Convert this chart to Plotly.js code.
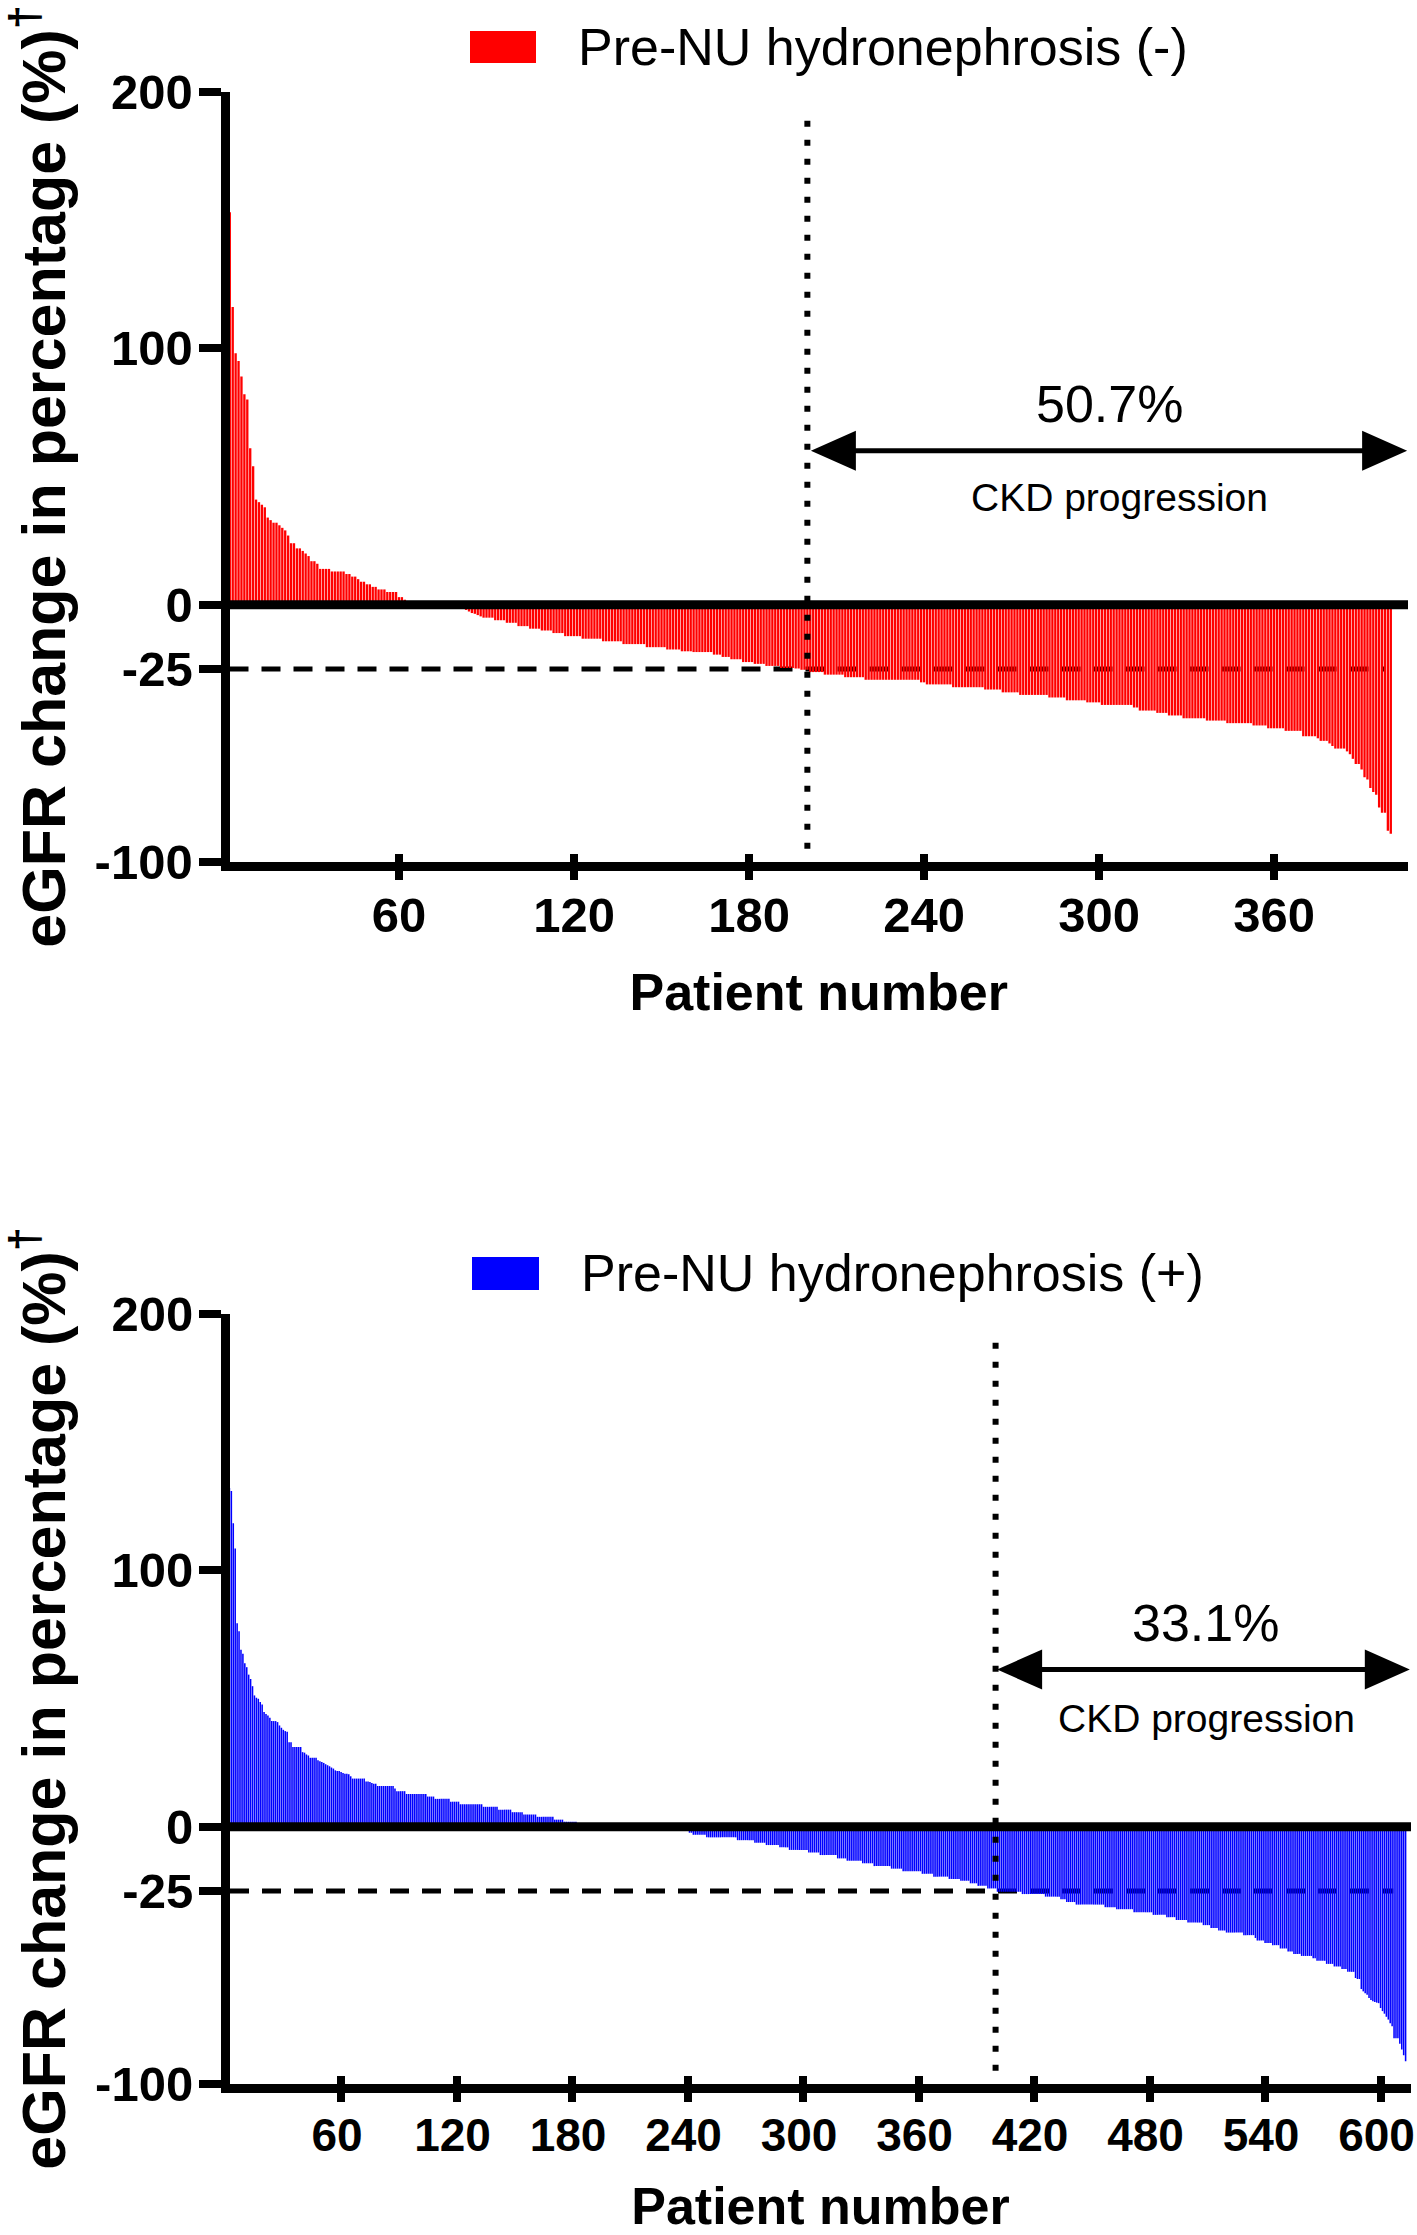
<!DOCTYPE html>
<html>
<head>
<meta charset="utf-8">
<script src="https://cdn.plot.ly/plotly-3.0.1.min.js"></script>
<style>html,body{margin:0;padding:0;background:#fff;}#chart{width:1417px;height:2235px;}</style>
</head>
<body>
<div id="chart"></div>
<script>
// ---------- DATA ----------
// Panel A: Pre-NU hydronephrosis (-), eGFR change (%) per patient, sorted
const egfrNeg = [
160,153,116,98,95,89,82,80,61,54,41,40,39,38,34,33,32,32,31,30,29,27,24,24,22,22,21,20,19,17,17,16,14,14,14,14,13,13,13,13,13,12,12,11,11,10,9,9,8,8,7,7,6,6,6,5,5,5,5,3,3,2,1.5,
0.8,0.6,0.5,0.4,0.3,0.3,0.2,0.2,0.1,0.1,0,0,-0.1,-0.2,-0.3,-0.5,-0.7,-1,-1.3,
-2,-2.6,-3.2,-3.5,-4,-4.5,
-5,-5,-5,-5,
-6,-6,-6,-6,
-7,-7,-7,-7,
-8.3,-8.3,-8.3,-8.3,
-9.3,-9.3,-9.3,-9.3,
-10,-10,-10,-10,
-11,-11,-11,-11,
-12.2,-12.2,-12.2,-12.2,-12.2,-12.2,
-13.2,-13.2,-13.2,-13.2,-13.2,-13.2,-13.2,
-14.2,-14.2,-14.2,-14.2,-14.2,-14.2,-14.2,
-15.3,-15.3,-15.3,-15.3,-15.3,-15.3,-15.3,-15.3,
-16.5,-16.5,-16.5,-16.5,-16.5,-16.5,-16.5,
-17.4,-17.4,-17.4,-17.4,-17.4,
-18.1,-18.1,-18.1,-18.1,
-18.4,-18.4,-18.4,-18.4,-18.4,-18.4,-18.4,
-19.4,-19.4,-19.4,
-20.3,-20.3,-20.3,
-21.2,-21.2,-21.2,-21.2,
-22.3,-22.3,-22.3,-22.3,
-23,-23,-23,-23,
-23.8,-23.8,-23.8,-23.8,-23.8,
-24.6,-24.6,-24.6,-24.6,-24.6,
-24.8,-24.8,
-25.3,-25.3,-25.3,
-26.2,-26.2,-26.2,-26.2,-26.2,
-27.2,-27.2,-27.2,-27.2,-27.2,-27.2,-27.2,
-28.2,-28.2,-28.2,-28.2,-28.2,-28.2,-28.2,
-29.2,-29.2,-29.2,-29.2,-29.2,-29.2,-29.2,-29.2,-29.2,-29.2,-29.2,-29.2,-29.2,-29.2,-29.2,-29.2,-29.2,-29.2,-29.2,
-30.2,-30.2,
-31,-31,-31,-31,-31,-31,-31,-31,-31,
-32.1,-32.1,-32.1,-32.1,-32.1,-32.1,-32.1,-32.1,-32.1,-32.1,-32.1,
-33,-33,-33,-33,-33,-33,
-34.1,-34.1,-34.1,-34.1,-34.1,-34.1,
-35.1,-35.1,-35.1,-35.1,-35.1,-35.1,-35.1,-35.1,-35.1,-35.1,
-36.1,-36.1,-36.1,-36.1,-36.1,-36.1,
-37.2,-37.2,-37.2,-37.2,-37.2,-37.2,-37.2,
-38,-38,-38,-38,-38,
-39,-39,-39,-39,-39,-39,-39,-39,-39,-39,-39,
-40,-40,
-41.2,-41.2,-41.2,-41.2,-41.2,-41.2,
-42.1,-42.1,-42.1,-42.1,
-43.1,-43.1,-43.1,-43.1,-43.1,
-44.2,-44.2,-44.2,-44.2,-44.2,-44.2,-44.2,-44.2,
-45.1,-45.1,-45.1,-45.1,-45.1,-45.1,-45.1,
-46.1,-46.1,-46.1,-46.1,-46.1,-46.1,-46.1,-46.1,-46.1,
-47,-47,-47,-47,-47,
-48.1,-48.1,-48.1,-48.1,-48.1,-48.1,
-49.1,-49.1,-49.1,-49.1,-49.1,-49.1,
-51.2,-51.2,-51.2,-51.2,-51.2,
-52,-53,-53,-53,-54,-55,
-56,-56,-56,-56,
-57.1,-58.2,-60,-62,-62,-64.2,-67.2,-68.1,-71.4,-72.9,-74,-79,-81,-81,-88,-89.2
];

// Panel B: Pre-NU hydronephrosis (+), eGFR change (%) per patient, sorted
const egfrPos = [
135,132,
130.8,118.3,108.4,79.3,76.2,69,67.4,63.7,62.2,59.3,57.6,54.8,51.2,50.3,49.9,48.6,47.7,44.7,44,43.4,42.5,41.2,41.2,41.2,40.8,39.5,38.6,37.8,37.3,37,33,33,31.1,31.1,31.1,31.1,31.1,29.1,28.9,28.2,27.8,26.9,26.9,26.9,26.9,25.9,25.6,25.3,24.9,24.4,24,23.6,23.1,22.7,22,21.8,21.8,21.4,21,20.7,20.7,20.5,19.7,
18.8,18.8,18.8,18.8,18.8,18.8,18.8,
17.7,17.7,17.5,17.1,16.8,16.8,
15.9,15.9,15.9,15.9,15.9,15.9,15.9,15.9,15.9,
14.9,
13.9,13.9,13.9,13.9,13.9,
12.8,12.8,12.8,12.8,12.8,12.8,12.8,12.8,12.8,12.8,12.8,
11.8,11.8,11.8,11.8,
10.9,10.9,10.9,10.9,10.9,10.9,10.9,10.9,
9.8,9.8,9.8,9.8,9.8,
8.8,8.8,8.8,8.8,8.8,8.8,8.8,8.8,8.8,8.8,8.8,8.8,
7.8,7.8,7.8,7.8,7.8,7.8,7.8,7.8,
6.7,6.7,6.7,6.7,6.7,6.7,6.7,
5.7,5.7,5.7,5.7,5.7,5.7,
4.8,4.8,4.8,4.8,4.8,4.8,4.8,
3.9,3.9,3.9,3.9,3.9,3.9,3.9,3.9,3.9,
2.8,2.8,2.8,2.8,2.8,
2,2,2,2,2,2,2,
1.5,1.5,1.5,1.5,1.5,1.5,1.5,1.5,
1,1,1,1,1,1,1,1,1,1,
0.6,0.6,0.6,0.6,0.6,0.6,0.6,0.6,0.6,0.6,0.6,0.6,
0.3,0.3,0.3,0.3,0.3,0.3,0.3,0.3,0.3,0.3,
0,0,0,0,0,0,0,0,
-0.4,-0.4,-0.4,-0.4,-0.4,-0.4,
-1,-1,-1,-1,
-2.3,-2.3,
-3.1,-3.1,-3.1,-3.1,-3.1,-3.1,-3.1,
-4.1,-4.1,-4.1,-4.1,-4.1,-4.1,-4.1,-4.1,-4.1,-4.1,-4.1,-4.1,-4.1,-4.1,-4.1,-4.1,
-5.2,-5.2,-5.2,-5.2,-5.2,-5.2,-5.2,-5.2,-5.2,
-6.2,-6.2,-6.2,-6.2,-6.2,-6.2,
-7.1,-7.1,-7.1,-7.1,-7.1,-7.1,-7.1,
-8,-8,-8,-8,-8,
-9,-9,-9,-9,-9,-9,-9,-9,-9,-9,
-10,-10,-10,-10,-10,-10,
-11,-11,-11,-11,-11,-11,-11,-11,-11,
-12.3,-12.3,-12.3,-12.3,-12.3,
-13.2,-13.2,-13.2,-13.2,-13.2,-13.2,-13.2,-13.2,
-14.2,-14.2,-14.2,-14.2,-14.2,-14.2,
-15.3,-15.3,-15.3,-15.3,-15.3,-15.3,-15.3,-15.3,-15.3,
-16.3,-16.3,-16.3,-16.3,-16.3,-16.3,
-17.3,-17.3,-17.3,-17.3,-17.3,-17.3,-17.3,-17.3,-17.3,-17.3,
-18.3,-18.3,-18.3,-18.3,-18.3,-18.3,
-19.4,-19.4,-19.4,-19.4,-19.4,-19.4,-19.4,-19.4,
-20.3,-20.3,-20.3,-20.3,-20.3,-20.3,
-21,-21,-21,-21,-21,
-22,-22,-22,-22,
-23,-23,-23,-23,-23,
-24,-24,-24,-24,-24,
-25.3,-25.3,-25.3,-25.3,-25.3,-25.3,-25.3,-25.3,-25.3,-25.3,-25.3,-25.3,-25.3,
-26.2,-26.2,-26.2,-26.2,-26.2,-26.2,-26.2,-26.2,-26.2,-26.2,-26.2,-26.2,
-27.2,-27.2,-27.2,-27.2,-27.2,-27.2,-27.2,-27.2,
-28.2,-28.2,-28.2,
-29.3,-29.3,-29.3,-29.3,-29.3,
-30.3,-30.3,-30.3,-30.3,-30.3,-30.3,-30.3,-30.3,-30.3,-30.3,-30.3,-30.3,-30.3,-30.3,-30.3,
-31.3,-31.3,-31.3,-31.3,-31.3,-31.3,
-32.1,-32.1,-32.1,-32.1,-32.1,-32.1,-32.1,-32.1,-32.1,
-33.3,-33.3,-33.3,-33.3,-33.3,-33.3,-33.3,-33.3,-33.3,-33.3,
-34.3,-34.3,-34.3,-34.3,-34.3,-34.3,-34.3,
-35.2,-35.2,-35.2,-35.2,-35.2,
-36.3,-36.3,-36.3,-36.3,-36.3,-36.3,
-37.3,-37.3,-37.3,-37.3,-37.3,-37.3,-37.3,-37.3,
-38.3,-38.3,-38.3,-38.3,
-39.4,-39.4,-39.4,-39.4,
-40.4,-40.4,-40.4,-40.4,
-41.2,-41.2,-41.2,-41.2,-41.2,-41.2,-41.2,-41.2,-41.2,
-42.2,-42.2,-42.2,-42.2,-42.2,-42.2,
-43.3,
-44.3,-44.3,-44.3,-44.3,
-45.3,-45.3,-45.3,-45.3,
-46.1,-46.1,-46.1,-46.1,
-47.4,-47.4,-47.4,-47.4,
-48.6,-48.6,-48.6,
-49.5,-49.5,-49.5,-49.5,
-50.3,-50.3,-50.3,-50.3,-50.3,-50.3,
-51.2,-51.2,
-52.2,-52.2,-52.2,-52.2,-52.2,
-53.4,-53.4,-53.4,-53.4,
-54.4,-54.4,-54.4,-54.4,
-55.4,-55.4,-55.4,
-56.5,-56.5,-56.5,-56.5,
-58.9,-59.3,-59.3,
-63.2,-64.1,-64.8,-65.4,-66.7,-67.5,-68,-68.2,-68.5,-68.7,-70.6,-71.8,-72.8,-74,-75.1,-76.5,-77.7,-82.4,-82.4,-82.4,-84.5,-86.8,-89,-91.3
];

// patient numbers (1..N)
const patientsNeg = egfrNeg.map((v, i) => i + 1);
const patientsPos = egfrPos.map((v, i) => i + 1);

// tick labels
const yTickVals = [200, 100, 0, -25, -100];
const yTickText = ['200', '100', '0', '-25', '-100'];
const xTickValsNeg = [60, 120, 180, 240, 300, 360];
const xTickValsPos = [60, 120, 180, 240, 300, 360, 420, 480, 540, 600];

// reference values / annotation anchors
const ckdCutoff = -25;
const dividerNeg = 200;
const dividerPos = 400;
const ckdTextNeg = '50.7%';
const ckdTextPos = '33.1%';
const arrowNeg = {from: 201.2, to: 405.6, y: 60};
const arrowPos = {from: 400.8, to: 615.2, y: 61.3};

// ---------- LAYOUT ----------
const W = 1417, H = 2235;
const fx = p => p / W;
const fy = p => 1 - p / H;
const FONT = 'Liberation Sans, Arial, sans-serif';

const tickFont = {family: FONT, size: 49, color: '#000', weight: 'bold'};
const tickFontPosX = {family: FONT, size: 46, color: '#000', weight: 'bold'};
const titleFont = {family: FONT, size: 61, color: '#000', weight: 'bold'};
const xTitleFont = {family: FONT, size: 52, color: '#000', weight: 'bold'};

function xAxisMain(domain, range, tickvals, tfont, shift) {
  return {
    domain: domain, range: range, showline: true, linewidth: 9, linecolor: '#000',
    ticks: 'outside', ticklen: 9, tickwidth: 8, tickcolor: '#000',
    tickmode: 'array', tickvals: tickvals, ticktext: tickvals.map(String),
    tickfont: tfont, showgrid: false, zeroline: false, fixedrange: true,
    ticklabelstandoff: -6, ticklabelshift: shift, ticklabeloverflow: 'allow',
    title: {text: 'Patient number', font: xTitleFont, standoff: 36}
  };
}
function xAxisOverlay(over, anchor, range, tickvals) {
  return {
    overlaying: over, anchor: anchor, range: range, side: 'bottom',
    showline: false, ticks: 'inside', ticklen: 8, tickwidth: 8, tickcolor: '#000',
    tickmode: 'array', tickvals: tickvals, showticklabels: false,
    showgrid: false, zeroline: false, fixedrange: true
  };
}
function yAxisMain(domain, anchor) {
  return {
    domain: domain, anchor: anchor, range: [-100, 200], showline: true, linewidth: 9, linecolor: '#000',
    ticks: 'outside', ticklen: 22, tickwidth: 8, tickcolor: '#000',
    tickmode: 'array', tickvals: yTickVals, ticktext: yTickText,
    tickfont: tickFont, showgrid: false, zeroline: false, fixedrange: true,
    ticklabelstandoff: -4,
    title: {text: 'eGFR change in percentage (%)<sup>†</sup>', font: titleFont, standoff: 14}
  };
}

const rangeNeg = [1.9, 405.9];
const rangePos = [2.3, 615.8];

const traces = [
  {type: 'bar', x: patientsNeg, y: egfrNeg, xaxis: 'x', yaxis: 'y', name: 'Pre-NU hydronephrosis (-)',
   marker: {color: '#FF0000', line: {width: 0}}, showlegend: false, hoverinfo: 'x+y'},
  {type: 'bar', x: patientsPos, y: egfrPos, xaxis: 'x2', yaxis: 'y2', name: 'Pre-NU hydronephrosis (+)',
   marker: {color: '#0000FF', line: {width: 0}}, showlegend: false, hoverinfo: 'x+y'},
  {type: 'scatter', x: [], y: [], xaxis: 'x3', yaxis: 'y', showlegend: false, hoverinfo: 'skip'},
  {type: 'scatter', x: [], y: [], xaxis: 'x4', yaxis: 'y2', showlegend: false, hoverinfo: 'skip'}
];

const domXNeg = [fx(229.5), fx(1408)];
const domXPos = [fx(230), fx(1411)];
const domYNeg = [fy(861.5), fy(91.5)];
const domYPos = [fy(2083.5), fy(1313.5)];

// double-headed arrow: a line plus two pixel-sized triangle heads
const HEAD_L = 45, HEAD_W = 20;
function doubleArrow(xr, yr, a) {
  return [
    {type: 'line', xref: xr, yref: yr, x0: a.from + 5, x1: a.to - 5, y0: a.y, y1: a.y,
     line: {color: '#000', width: 5}, layer: 'above'},
    {type: 'path', xref: xr, yref: yr, xsizemode: 'pixel', ysizemode: 'pixel', xanchor: a.from, yanchor: a.y,
     path: `M0,0 L${HEAD_L},${HEAD_W} L${HEAD_L},${-HEAD_W} Z`, fillcolor: '#000', line: {width: 0}, layer: 'above'},
    {type: 'path', xref: xr, yref: yr, xsizemode: 'pixel', ysizemode: 'pixel', xanchor: a.to, yanchor: a.y,
     path: `M0,0 L${-HEAD_L},${HEAD_W} L${-HEAD_L},${-HEAD_W} Z`, fillcolor: '#000', line: {width: 0}, layer: 'above'}
  ];
}

const shapes = [
  // cutoff dashed lines (below bars)
  {type: 'line', xref: 'x domain', yref: 'y', x0: 0, x1: 0.98, y0: ckdCutoff, y1: ckdCutoff,
   line: {color: '#000', width: 5, dash: '19px,13px'}, layer: 'below'},
  {type: 'line', xref: 'x2 domain', yref: 'y2', x0: 0, x1: 0.985, y0: ckdCutoff, y1: ckdCutoff,
   line: {color: '#000', width: 5, dash: '19px,13px'}, layer: 'below'},
  // zero lines
  {type: 'line', xref: 'x domain', yref: 'y', x0: 0, x1: 1, y0: 0, y1: 0,
   line: {color: '#000', width: 9}, layer: 'above'},
  {type: 'line', xref: 'x2 domain', yref: 'y2', x0: 0, x1: 1, y0: 0, y1: 0,
   line: {color: '#000', width: 9}, layer: 'above'},
  // dotted dividers
  {type: 'line', xref: 'x', yref: 'y', x0: dividerNeg, x1: dividerNeg, y0: -95, y1: 190,
   line: {color: '#000', width: 6, dash: '6px,13px'}, layer: 'above'},
  {type: 'line', xref: 'x2', yref: 'y2', x0: dividerPos, x1: dividerPos, y0: -95, y1: 192,
   line: {color: '#000', width: 6, dash: '6px,13px'}, layer: 'above'},
  // legend swatches
  {type: 'rect', xref: 'paper', yref: 'paper', x0: fx(470), x1: fx(536), y0: fy(63), y1: fy(31),
   fillcolor: '#FF0000', line: {width: 0}},
  {type: 'rect', xref: 'paper', yref: 'paper', x0: fx(472), x1: fx(539), y0: fy(1290), y1: fy(1257),
   fillcolor: '#0000FF', line: {width: 0}}
].concat(doubleArrow('x', 'y', arrowNeg), doubleArrow('x2', 'y2', arrowPos));

const annotations = [
  // legends
  {xref: 'paper', yref: 'paper', x: fx(576), y: fy(47), xanchor: 'left', yanchor: 'middle', showarrow: false,
   text: 'Pre-NU hydronephrosis (-)', font: {family: FONT, size: 52, color: '#000'}},
  {xref: 'paper', yref: 'paper', x: fx(579), y: fy(1273), xanchor: 'left', yanchor: 'middle', showarrow: false,
   text: 'Pre-NU hydronephrosis (+)', font: {family: FONT, size: 52, color: '#000'}},
  // percentages
  {xref: 'x', yref: 'y', x: 303.4, y: 78.4, showarrow: false, text: ckdTextNeg,
   font: {family: FONT, size: 52, color: '#000'}},
  {xref: 'x', yref: 'y', x: 307, y: 41.8, showarrow: false, text: 'CKD progression',
   font: {family: FONT, size: 39, color: '#000'}},
  {xref: 'x2', yref: 'y2', x: 508.8, y: 79.5, showarrow: false, text: ckdTextPos,
   font: {family: FONT, size: 52, color: '#000'}},
  {xref: 'x2', yref: 'y2', x: 509.4, y: 42.2, showarrow: false, text: 'CKD progression',
   font: {family: FONT, size: 39, color: '#000'}}
];

const layout = {
  width: W, height: H,
  margin: {l: 0, r: 0, t: 0, b: 0, pad: 0},
  paper_bgcolor: '#fff', plot_bgcolor: 'rgba(0,0,0,0)',
  showlegend: false,
  bargap: 0.2,
  font: {family: FONT, color: '#000'},
  xaxis: Object.assign(xAxisMain(domXNeg, rangeNeg, xTickValsNeg, tickFont, 0), {anchor: 'y'}),
  yaxis: yAxisMain(domYNeg, 'x'),
  xaxis2: Object.assign(xAxisMain(domXPos, rangePos, xTickValsPos, tickFontPosX, -4), {anchor: 'y2'}),
  yaxis2: yAxisMain(domYPos, 'x2'),
  xaxis3: xAxisOverlay('x', 'y', rangeNeg, xTickValsNeg),
  xaxis4: xAxisOverlay('x2', 'y2', rangePos, xTickValsPos),
  shapes: shapes,
  annotations: annotations
};

Plotly.newPlot('chart', traces, layout, {staticPlot: true, displayModeBar: false});
</script>
</body>
</html>
